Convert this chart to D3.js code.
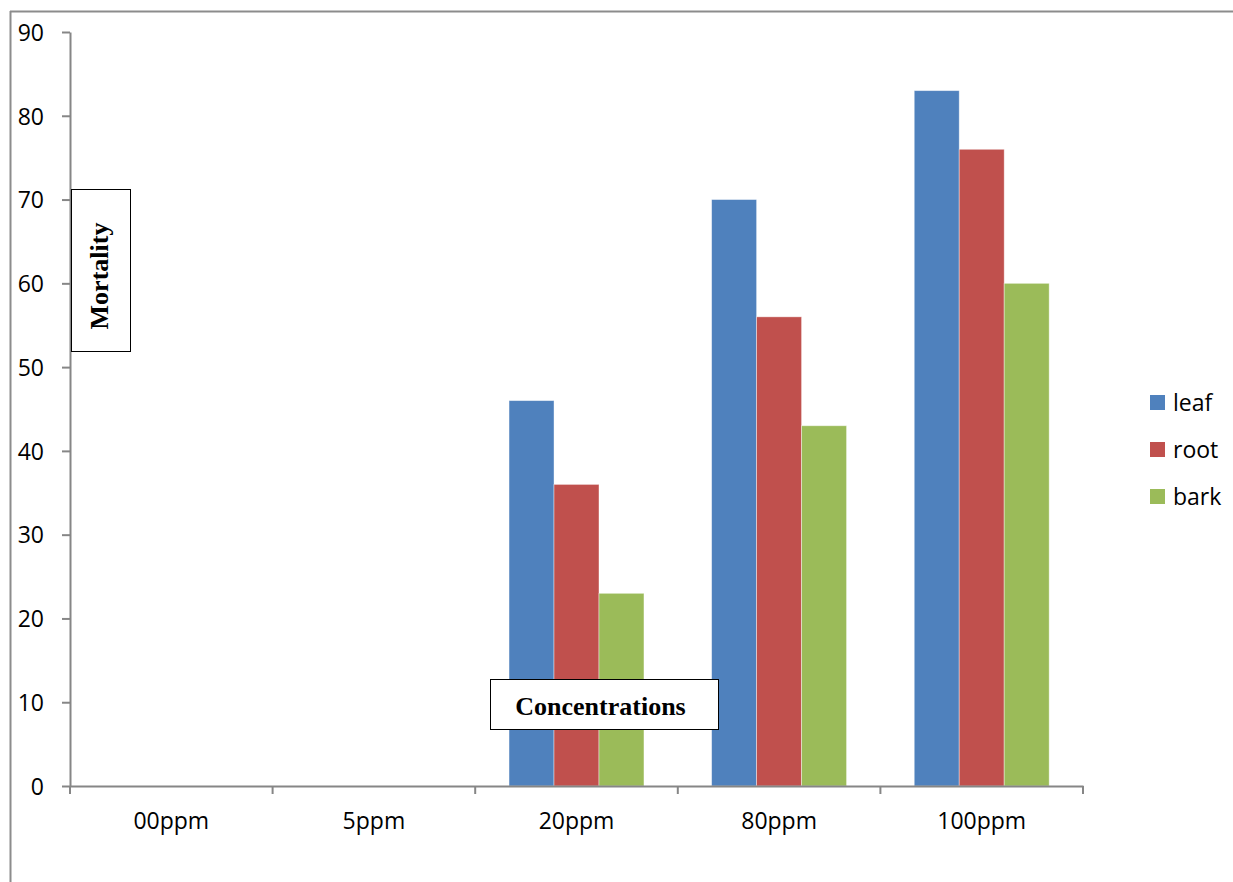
<!DOCTYPE html>
<html><head><meta charset="utf-8">
<script src="https://cdn.jsdelivr.net/npm/d3@7"></script>
<style>body{margin:0;background:#fff}svg{display:block}</style>
</head><body>
<svg id="c" width="1233" height="882"></svg>
<script>
const categories = ["00ppm","5ppm","20ppm","80ppm","100ppm"];
const seriesNames = ["leaf","root","bark"];
const leaf = [0,0,46,70,83];
const root = [0,0,36,56,76];
const bark = [0,0,23,43,60];
const yTicks = [0,10,20,30,40,50,60,70,80,90];
const colors = ["#4F81BD","#C0504D","#9BBB59"];
const seriesValues = [leaf, root, bark];

(function(){
const svg = d3.select("#c");
const font = "'Open Sans', sans-serif";
const serif = "'Liberation Serif','Times New Roman',serif";
const axisColor = "#868686";

// outer frame (top and left edges visible)
svg.append("line").attr("x1",10).attr("x2",1233).attr("y1",11.5).attr("y2",11.5)
  .attr("stroke","#8c8c8c").attr("stroke-width",2);
svg.append("line").attr("x1",10.5).attr("x2",10.5).attr("y1",11).attr("y2",882)
  .attr("stroke","#8c8c8c").attr("stroke-width",2);

const pL=70, pR=1083, pT=32, pB=786;
const x0 = d3.scaleBand().domain(categories).range([pL,pR]).paddingInner(0).paddingOuter(0);
const bw = x0.bandwidth();
const gap = bw*0.167;
const x1 = d3.scaleBand().domain(seriesNames).range([gap,bw-gap]).padding(0);
const y = d3.scaleLinear().domain([0,90]).range([pB,pT]);

const g = svg.append("g");
seriesNames.forEach((s,si)=>{
  g.selectAll(".b"+si).data(categories.map((c,i)=>({c,v:seriesValues[si][i]})).filter(d=>d.v>0))
   .enter().append("rect")
   .attr("x",d=>x0(d.c)+x1(s))
   .attr("y",d=>y(d.v))
   .attr("width",x1.bandwidth())
   .attr("height",d=>y(0)-y(d.v))
   .attr("fill",colors[si])
   .attr("stroke","rgba(255,255,255,0.5)").attr("stroke-width",0.8);
});

const yAxis = svg.append("g").attr("transform",`translate(${pL},0)`)
  .call(d3.axisLeft(y).tickValues(yTicks).tickSize(8).tickPadding(18).tickSizeOuter(0));
yAxis.select(".domain").attr("stroke",axisColor).attr("stroke-width",2);
yAxis.selectAll(".tick line").attr("stroke",axisColor).attr("stroke-width",2);
yAxis.selectAll("text").attr("font-family",font).attr("font-size",23).attr("fill","#000").attr("dy","0.36em");

const xAxis = svg.append("g").attr("transform",`translate(0,${pB})`)
  .call(d3.axisBottom(x0).tickSize(0).tickPadding(27));
xAxis.select(".domain").attr("stroke",axisColor).attr("stroke-width",2);
xAxis.selectAll("text").attr("font-family",font).attr("font-size",23).attr("fill","#000");
const bounds = categories.map(c=>x0(c)).concat([pR]);
svg.append("g").selectAll("line").data(bounds).enter().append("line")
  .attr("x1",d=>d).attr("x2",d=>d).attr("y1",pB).attr("y2",pB+8)
  .attr("stroke",axisColor).attr("stroke-width",2);

svg.append("rect").attr("x",71.5).attr("y",189.5).attr("width",59).attr("height",162)
  .attr("fill","#fff").attr("stroke","#000").attr("stroke-width",1);
svg.append("text").attr("transform","translate(108,276) rotate(-90)")
  .attr("text-anchor","middle").attr("font-family",serif)
  .attr("font-weight","bold").attr("font-size",26).text("Mortality");

svg.append("rect").attr("x",490.5).attr("y",679.5).attr("width",228).attr("height",50)
  .attr("fill","#fff").attr("stroke","#000").attr("stroke-width",1);
svg.append("text").attr("x",600.5).attr("y",715)
  .attr("text-anchor","middle").attr("font-family",serif)
  .attr("font-weight","bold").attr("font-size",26).text("Concentrations");

const lg = svg.append("g");
seriesNames.forEach((s,i)=>{
  const yy = 395 + i*47;
  lg.append("rect").attr("x",1150).attr("y",yy).attr("width",15).attr("height",15).attr("fill",colors[i]);
  lg.append("text").attr("x",1173).attr("y",yy+16)
    .attr("font-family",font).attr("font-size",23).text(s);
});
})();
</script>
</body></html>
